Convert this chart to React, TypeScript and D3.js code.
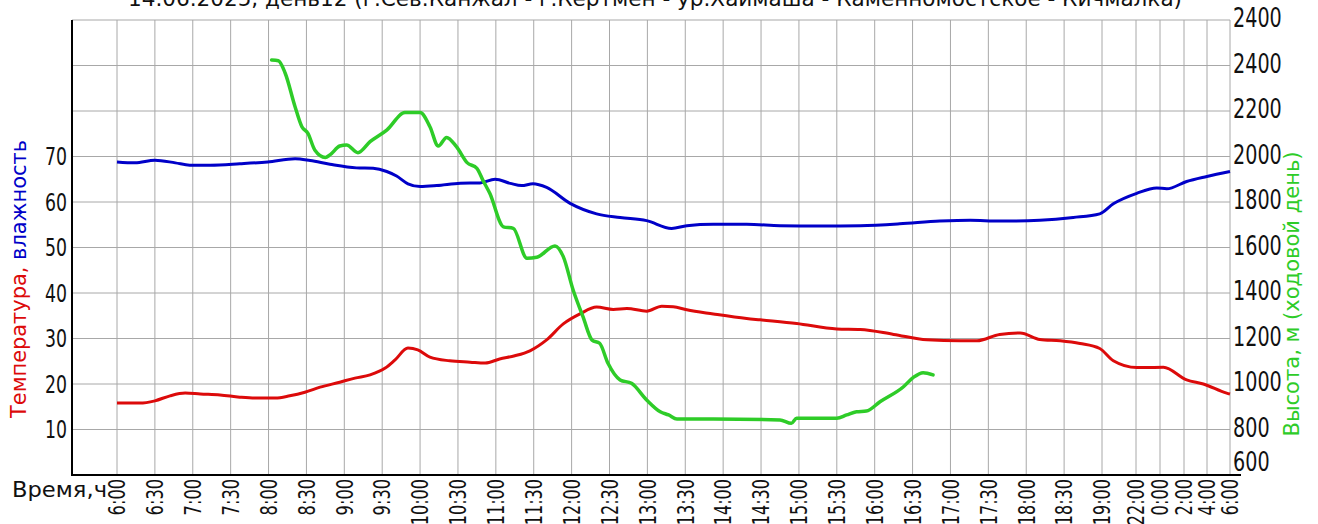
import React from "react";
import * as d3 from "d3";

// Hours since midnight of day 12 (values past 24 belong to the next morning)
const timeTicks = [
  6, 6.5, 7, 7.5, 8, 8.5, 9, 9.5, 10, 10.5, 11, 11.5, 12, 12.5, 13, 13.5, 14, 14.5,
  15, 15.5, 16, 16.5, 17, 17.5, 18, 18.5, 19, 22, 24, 26, 28, 30,
];
const timeTickLabels = [
  "6:00", "6:30", "7:00", "7:30", "8:00", "8:30", "9:00", "9:30", "10:00", "10:30",
  "11:00", "11:30", "12:00", "12:30", "13:00", "13:30", "14:00", "14:30", "15:00",
  "15:30", "16:00", "16:30", "17:00", "17:30", "18:00", "18:30", "19:00", "22:00",
  "0:00", "2:00", "4:00", "6:00",
];

const leftGridValues = [10, 20, 30, 40, 50, 60, 70, 80, 90, 100];
const leftTickValues = [10, 20, 30, 40, 50, 60, 70];
const rightTickValues = [600, 800, 1000, 1200, 1400, 1600, 1800, 2000, 2200, 2400, 2600];
const rightTickLabels = ["600", "800", "1000", "1200", "1400", "1600", "1800", "2000", "2200", "2400", "2400"];

// Humidity, %
const humidity: [number, number][] = [
  [6.0, 68.8], [6.24, 68.6], [6.5, 69.2], [6.77, 68.6], [6.96, 68.1], [7.23, 68.1],
  [7.62, 68.4], [7.99, 68.8], [8.35, 69.5], [8.55, 69.1], [8.81, 68.3], [9.16, 67.5],
  [9.38, 67.4], [9.56, 66.7], [9.69, 65.7], [9.84, 64.0], [10.0, 63.4], [10.22, 63.6],
  [10.53, 64.1], [10.79, 64.2], [10.99, 65.0], [11.19, 64.1], [11.34, 63.6], [11.49, 64.0],
  [11.67, 63.2], [11.98, 59.7], [12.33, 57.4], [12.64, 56.6], [12.99, 55.9], [13.32, 54.2],
  [13.52, 54.8], [13.87, 55.1], [14.31, 55.1], [14.75, 54.8], [15.28, 54.7], [15.81, 54.8],
  [16.33, 55.2], [16.86, 55.8], [17.26, 56.0], [17.65, 55.8], [18.18, 56.0], [18.62, 56.6],
  [18.97, 57.4], [20.0, 59.6], [22.06, 61.9], [23.72, 63.1], [24.56, 62.9], [26.23, 64.5],
  [27.99, 65.6], [30.0, 66.7],
];

// Air temperature, °C
const temperature: [number, number][] = [
  [6.0, 15.8], [6.3, 15.8], [6.5, 16.3], [6.7, 17.4], [6.9, 18.0], [7.1, 17.8],
  [7.36, 17.6], [7.62, 17.1], [7.82, 16.9], [8.09, 16.9], [8.28, 17.4], [8.48, 18.2],
  [8.68, 19.3], [8.94, 20.4], [9.14, 21.3], [9.34, 22.0], [9.54, 23.5], [9.67, 25.3],
  [9.84, 27.9], [9.97, 27.5], [10.13, 25.9], [10.39, 25.1], [10.66, 24.8], [10.86, 24.6],
  [11.05, 25.5], [11.25, 26.2], [11.45, 27.3], [11.67, 29.7], [11.89, 33.2], [12.11, 35.4],
  [12.33, 36.9], [12.55, 36.4], [12.73, 36.6], [12.99, 36.0], [13.19, 37.1], [13.34, 37.0],
  [13.52, 36.3], [13.87, 35.4], [14.31, 34.4], [14.49, 34.1], [14.97, 33.3], [15.5, 32.1],
  [15.81, 32.0], [16.25, 30.9], [16.69, 29.7], [17.13, 29.5], [17.35, 29.5], [17.65, 30.9],
  [17.92, 31.2], [18.18, 29.8], [18.45, 29.5], [18.71, 28.9], [18.97, 27.8], [20.0, 25.1],
  [22.06, 23.6], [24.28, 23.7], [26.23, 20.9], [27.68, 20.0], [29.71, 18.0], [30.0, 17.8],
];

// Altitude along the walking day, m
const altitude: [number, number][] = [
  [8.04, 2424], [8.13, 2421], [8.22, 2366], [8.35, 2219], [8.44, 2131], [8.52, 2102],
  [8.61, 2029], [8.75, 1996], [8.81, 2007], [8.94, 2046], [9.03, 2051], [9.18, 2017],
  [9.34, 2065], [9.56, 2116], [9.8, 2193], [10.0, 2193], [10.13, 2131], [10.24, 2046],
  [10.35, 2084], [10.48, 2043], [10.62, 1973], [10.75, 1948], [10.83, 1895], [10.92, 1838],
  [11.1, 1691], [11.23, 1684], [11.41, 1553], [11.54, 1557], [11.78, 1607], [11.89, 1560],
  [12.02, 1413], [12.15, 1296], [12.27, 1193], [12.37, 1179], [12.48, 1091], [12.64, 1018],
  [12.79, 1003], [12.99, 930], [13.17, 878], [13.28, 864], [13.39, 846], [13.87, 846],
  [14.75, 842], [14.9, 827], [14.97, 849], [15.5, 849], [15.63, 864], [15.76, 878],
  [15.89, 881], [16.07, 922], [16.38, 988], [16.51, 1029], [16.64, 1050], [16.77, 1040],
];

const title =
  "14.06.2025, день12 (г.Сев.Канжал - г.Кертмен - ур.Хаимаша - Каменномостское - Кичмалка)";

const FONT = "'DejaVu Sans', sans-serif";

const WIDTH = 1318;
const HEIGHT = 524;
const plot = { left: 72, right: 1230, top: 20, bottom: 475 };

// Narrow drafting-style lettering: fixed advance per character
const narrowWidth = (s: string, digit: number, colon: number) =>
  s.split("").reduce((w, c) => w + (c === ":" ? colon : digit), 0);

export default function App() {
  // Daytime hours are evenly spaced; the night hours after 19:00 are squeezed
  const x = d3
    .scaleLinear()
    .domain([6, 19, 22, 24, 26, 28, 30])
    .range([117, 1102, 1136, 1160, 1184, 1207, 1230]);
  const yLeft = d3.scaleLinear().domain([0, 100]).range([plot.bottom, plot.top]);
  const yRight = d3.scaleLinear().domain([600, 2600]).range([plot.bottom, plot.top]);

  const lineLeft = d3
    .line<[number, number]>()
    .x((d) => x(d[0]))
    .y((d) => yLeft(d[1]))
    .curve(d3.curveMonotoneX);
  const lineRight = d3
    .line<[number, number]>()
    .x((d) => x(d[0]))
    .y((d) => yRight(d[1]))
    .curve(d3.curveMonotoneX);

  const gridColor = "#a8a8a8";

  return (
    <svg
      width={WIDTH}
      height={HEIGHT}
      style={{ position: "absolute", left: 0, top: 0, background: "#fff" }}
      fontFamily={FONT}
    >
      <rect x={0} y={0} width={WIDTH} height={HEIGHT} fill="#fff" />

      {/* title, partly above the top edge */}
      <text x={128} y={6} fontSize={22} fill="#111" textLength={1054} lengthAdjust="spacingAndGlyphs">
        {title}
      </text>

      {/* grid */}
      {leftGridValues.map((v) => (
        <line
          key={"h" + v}
          x1={plot.left}
          x2={plot.right}
          y1={yLeft(v)}
          y2={yLeft(v)}
          stroke={gridColor}
          strokeWidth={1}
        />
      ))}
      {timeTicks.map((t, i) => (
        <line
          key={"v" + i}
          x1={x(t)}
          x2={x(t)}
          y1={plot.top}
          y2={plot.bottom}
          stroke={gridColor}
          strokeWidth={1}
        />
      ))}

      {/* axes */}
      <line x1={plot.left} x2={plot.left} y1={plot.top} y2={plot.bottom + 1} stroke="#000" strokeWidth={2} />
      <line x1={plot.left - 1} x2={1241} y1={plot.bottom} y2={plot.bottom} stroke="#000" strokeWidth={2} />

      {/* series */}
      <path d={lineLeft(humidity) ?? ""} fill="none" stroke="#0000c8" strokeWidth={3} strokeLinejoin="round" />
      <path d={lineLeft(temperature) ?? ""} fill="none" stroke="#dc0a0a" strokeWidth={3} strokeLinejoin="round" />
      <path
        d={lineRight(altitude) ?? ""}
        fill="none"
        stroke="#2ecc28"
        strokeWidth={3.5}
        strokeLinejoin="round"
        strokeLinecap="round"
      />

      {/* left ticks */}
      {leftTickValues.map((v) => {
        const s = String(v);
        return (
          <text
            key={"lt" + v}
            x={67}
            y={yLeft(v) + 8.5}
            fontSize={24}
            textAnchor="end"
            fill="#111"
            textLength={narrowWidth(s, 11, 5)}
            lengthAdjust="spacingAndGlyphs"
          >
            {s}
          </text>
        );
      })}

      {/* right ticks */}
      {rightTickValues.map((v, i) => (
        <text
          key={"rt" + i}
          x={1233}
          y={i === 0 ? yRight(v) - 4 : yRight(v) + 7}
          fontSize={27}
          fill="#111"
          textLength={narrowWidth(rightTickLabels[i], 12.2, 6)}
          lengthAdjust="spacingAndGlyphs"
        >
          {rightTickLabels[i]}
        </text>
      ))}

      {/* time ticks */}
      {timeTicks.map((t, i) => (
        <text
          key={"tt" + i}
          transform={`translate(${x(t)},479) rotate(-90)`}
          dy="0.36em"
          fontSize={23}
          textAnchor="end"
          fill="#111"
          textLength={narrowWidth(timeTickLabels[i], 9.8, 7)}
          lengthAdjust="spacingAndGlyphs"
        >
          {timeTickLabels[i]}
        </text>
      ))}

      <text x={12} y={497} fontSize={22} fill="#111" textLength={95} lengthAdjust="spacingAndGlyphs">
        Время,ч
      </text>

      {/* axis titles */}
      <text
        transform="translate(26,279) rotate(-90)"
        fontSize={22}
        textAnchor="middle"
        textLength={278}
        lengthAdjust="spacingAndGlyphs"
      >
        <tspan fill="#dc0a0a">Температура, </tspan>
        <tspan fill="#0000c8">влажность</tspan>
      </text>
      <text
        transform="translate(1299,294) rotate(-90)"
        fontSize={22}
        textAnchor="middle"
        fill="#2ecc28"
        textLength={285}
        lengthAdjust="spacingAndGlyphs"
      >
        Высота, м (ходовой день)
      </text>
    </svg>
  );
}
